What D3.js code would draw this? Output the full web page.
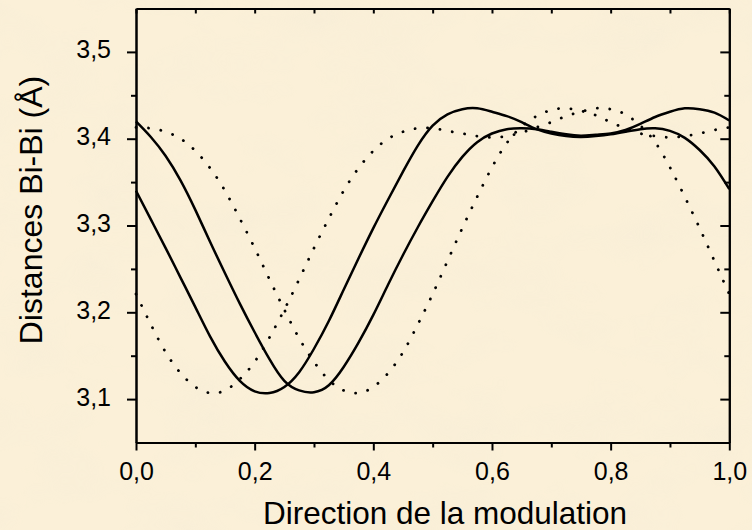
<!DOCTYPE html>
<html>
<head>
<meta charset="utf-8">
<script src="https://cdnjs.cloudflare.com/ajax/libs/d3/7.8.5/d3.min.js"></script>
<style>
  body { margin: 0; background: #f9edd1; }
  svg { display: block; }
  text { font-family: "Liberation Sans", Arial, sans-serif; fill: #000; }
</style>
</head>
<body>
<svg id="chart"></svg>
<script>
// position along the modulation (x), shared by every curve
const positions = [0, 0.025, 0.05, 0.075, 0.1, 0.125, 0.15, 0.175, 0.2, 0.225,
  0.25, 0.275, 0.3, 0.325, 0.35, 0.375, 0.4, 0.425, 0.45, 0.475,
  0.5, 0.525, 0.55, 0.575, 0.6, 0.625, 0.65, 0.675, 0.7, 0.725,
  0.75, 0.775, 0.8, 0.825, 0.85, 0.875, 0.9, 0.925, 0.95, 0.975, 1.0];

// solid curve starting low (min near 0.22)
const solidA = [3.340, 3.307, 3.274, 3.240, 3.206, 3.172, 3.143, 3.121, 3.109, 3.107,
  3.114, 3.131, 3.158, 3.190, 3.226, 3.262, 3.297, 3.330, 3.362, 3.392,
  3.415, 3.428, 3.434, 3.435, 3.431, 3.426, 3.419, 3.411, 3.406, 3.403,
  3.402, 3.403, 3.405, 3.408, 3.411, 3.412, 3.409, 3.401, 3.387, 3.368, 3.342];

// solid curve starting high (min near 0.29)
const solidB = [3.420, 3.402, 3.380, 3.352, 3.318, 3.281, 3.245, 3.210, 3.177, 3.146,
  3.121, 3.110, 3.108, 3.116, 3.137, 3.165, 3.197, 3.232, 3.266, 3.298,
  3.328, 3.356, 3.379, 3.396, 3.406, 3.411, 3.412, 3.411, 3.408, 3.405,
  3.4035, 3.4045, 3.406, 3.410, 3.417, 3.425, 3.431, 3.435, 3.434, 3.430, 3.421];

// dotted curve starting low (min near 0.13)
const dottedA = [3.221, 3.186, 3.154, 3.130, 3.114, 3.107, 3.110, 3.123, 3.143, 3.171,
  3.203, 3.238, 3.274, 3.308, 3.340, 3.366, 3.386, 3.400, 3.408, 3.412,
  3.412, 3.409, 3.406, 3.403, 3.4015, 3.403, 3.407, 3.413, 3.419, 3.426,
  3.431, 3.435, 3.434, 3.428, 3.415, 3.396, 3.367, 3.333, 3.297, 3.259, 3.221];

// dotted curve starting high (min near 0.37)
const dottedB = [3.413, 3.412, 3.408, 3.400, 3.386, 3.366, 3.340, 3.308, 3.274, 3.238,
  3.203, 3.170, 3.143, 3.122, 3.110, 3.107, 3.114, 3.130, 3.154, 3.186,
  3.221, 3.259, 3.297, 3.333, 3.367, 3.395, 3.414, 3.426, 3.433, 3.435,
  3.432, 3.427, 3.419, 3.412, 3.406, 3.403, 3.4015, 3.403, 3.406, 3.410, 3.413];

const xTicks = [0, 0.2, 0.4, 0.6, 0.8, 1.0];
const xMinorTicks = [0.1, 0.3, 0.5, 0.7, 0.9];
const yTicks = [3.1, 3.2, 3.3, 3.4, 3.5];
const yMinorTicks = [3.15, 3.25, 3.35, 3.45];

const width = 752, height = 530;
const plotLeft = 136, plotRight = 729.3, plotTop = 8.5, plotBottom = 442.5;

const svg = d3.select("#chart")
  .attr("width", width)
  .attr("height", height);

// parchment-like background
const defs = svg.append("defs");
const paper = defs.append("filter").attr("id", "paper")
  .attr("x", 0).attr("y", 0).attr("width", "100%").attr("height", "100%");
paper.append("feTurbulence")
  .attr("type", "fractalNoise")
  .attr("baseFrequency", "0.012 0.02")
  .attr("numOctaves", 3)
  .attr("seed", 7)
  .attr("result", "noise");
paper.append("feColorMatrix")
  .attr("in", "noise")
  .attr("type", "matrix")
  .attr("values", "0 0 0 0 0.93  0 0 0 0 0.85  0 0 0 0 0.68  0 0 0 -1.8 1.05");

svg.append("rect")
  .attr("width", width).attr("height", height)
  .attr("fill", "#fbf0d8");
svg.append("rect")
  .attr("width", width).attr("height", height)
  .attr("filter", "url(#paper)")
  .attr("opacity", 0.7);

const x = d3.scaleLinear().domain([0, 1]).range([plotLeft, plotRight]);
const y = d3.scaleLinear().domain([3.05, 3.55]).range([plotBottom, plotTop]);

const comma = d => d3.format(".1f")(d).replace(".", ",");

// axes
function styleAxis(g) {
  g.selectAll("path, line").attr("stroke", "#000").attr("stroke-width", 2);
  g.selectAll("text").style("font-size", "25px")
    .style("font-family", '"Liberation Sans", Arial, sans-serif');
}

svg.append("g")
  .attr("transform", `translate(0,${plotBottom})`)
  .call(d3.axisBottom(x).tickValues(xTicks).tickFormat(comma).tickSizeInner(8).tickSizeOuter(0).tickPadding(12))
  .call(styleAxis)
  .call(g => g.selectAll("text").attr("dy", "0.71em"));
svg.append("g")
  .attr("transform", `translate(0,${plotBottom})`)
  .call(d3.axisBottom(x).tickValues(xMinorTicks).tickFormat("").tickSizeInner(5).tickSizeOuter(0))
  .call(styleAxis);

svg.append("g")
  .attr("transform", `translate(${plotLeft},0)`)
  .call(d3.axisLeft(y).tickValues(yTicks).tickFormat(comma).tickSizeInner(9).tickSizeOuter(0).tickPadding(16))
  .call(styleAxis)
  .call(g => g.selectAll("text").attr("dy", "0.24em"));
svg.append("g")
  .attr("transform", `translate(${plotLeft},0)`)
  .call(d3.axisLeft(y).tickValues(yMinorTicks).tickFormat("").tickSizeInner(5).tickSizeOuter(0))
  .call(styleAxis);

svg.append("g")
  .attr("transform", `translate(0,${plotTop})`)
  .call(d3.axisTop(x).tickValues(xTicks.concat(xMinorTicks)).tickFormat("").tickSizeInner(-5).tickSizeOuter(0))
  .call(styleAxis);

svg.append("g")
  .attr("transform", `translate(${plotRight},0)`)
  .call(d3.axisRight(y).tickValues(yTicks).tickFormat("").tickSizeInner(-9).tickSizeOuter(0))
  .call(styleAxis);
svg.append("g")
  .attr("transform", `translate(${plotRight},0)`)
  .call(d3.axisRight(y).tickValues(yMinorTicks).tickFormat("").tickSizeInner(-5).tickSizeOuter(0))
  .call(styleAxis);

// curves
const line = d3.line()
  .x((d, i) => x(positions[i]))
  .y(d => y(d))
  .curve(d3.curveNatural);

const series = [
  { values: dottedA, dotted: true },
  { values: dottedB, dotted: true },
  { values: solidA, dotted: false },
  { values: solidB, dotted: false }
];

svg.append("g")
  .selectAll("path")
  .data(series)
  .join("path")
  .attr("d", d => line(d.values))
  .attr("fill", "none")
  .attr("stroke", "#000")
  .attr("stroke-width", d => d.dotted ? 2.8 : 2.5)
  .attr("stroke-linecap", d => d.dotted ? "round" : "butt")
  .attr("stroke-dasharray", d => d.dotted ? "0.1,12.4" : null);

// axis titles
svg.append("text")
  .attr("x", 445)
  .attr("y", 524)
  .attr("text-anchor", "middle")
  .style("font-size", "31.5px")
  .text("Direction de la modulation");

svg.append("text")
  .attr("transform", "rotate(-90)")
  .attr("x", -210)
  .attr("y", 42)
  .attr("text-anchor", "middle")
  .style("font-size", "32px")
  .text("Distances Bi-Bi (Å)");
</script>
</body>
</html>
